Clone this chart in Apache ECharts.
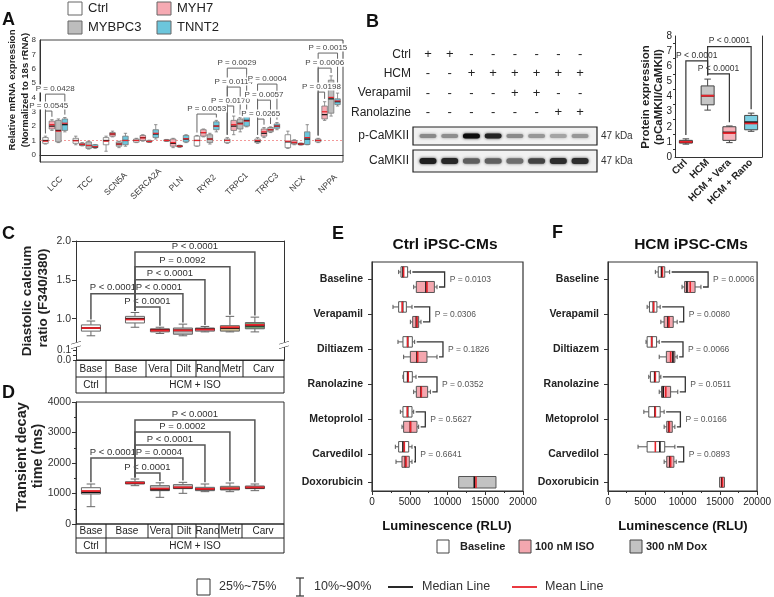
<!DOCTYPE html>
<html><head><meta charset="utf-8">
<script src="https://cdn.jsdelivr.net/npm/echarts@6/dist/echarts.min.js"></script>
<style>html,body{margin:0;padding:0;background:#fff}#c{width:774px;height:597px}</style>
</head><body><div id="c"></div>
<script>
// ================= DATA =================
// Panel A: relative mRNA expression. Each entry: [whiskerLow, q1, median, q3, whiskerHigh, mean]
const genesA = ['LCC','TCC','SCN5A','SERCA2A','PLN','RYR2','TRPC1','TRPC3','NCX','NPPA'];
const groupsA = ['Ctrl','MYH7','MYBPC3','TNNT2'];
const ctrlA = [
 [0.75,0.8,1.0,1.2,1.3,0.95],[0.7,0.8,1.0,1.15,1.3,0.98],[0.25,0.7,1.0,1.2,1.3,0.95],
 [0.85,0.88,1.0,1.1,1.15,1.0],[0.93,0.95,1.0,1.05,1.07,1.0],[0.6,0.62,1.0,1.3,1.35,1.0],
 [0.8,0.85,1.0,1.1,1.2,1.0],[0.8,0.85,0.95,1.1,1.2,1.0],[0.45,0.5,0.9,1.4,1.65,0.95],
 [0.85,0.9,1.0,1.1,1.15,1.0]];
const myh7A = [
 [1.7,1.8,2.0,2.35,2.45,2.1],[0.62,0.65,0.72,0.8,0.85,0.73],[1.25,1.3,1.45,1.55,1.65,1.45],
 [0.95,1.0,1.2,1.35,1.4,1.18],[0.5,0.6,0.8,1.1,1.15,0.85],[1.25,1.3,1.55,1.75,1.8,1.55],
 [1.4,1.7,2.0,2.4,2.7,2.1],[1.2,1.3,1.5,1.8,1.9,1.6],[0.7,0.75,0.85,1.0,1.05,0.87],
 [2.4,2.5,2.8,3.4,3.7,3.0]];
const mybpc3A = [
 [0.85,0.9,1.7,2.4,2.5,1.65],[0.4,0.45,0.65,0.9,0.95,0.65],[0.5,0.6,0.75,0.9,0.95,0.75],
 [0.88,0.9,0.92,1.0,1.02,0.93],[0.52,0.55,0.6,0.65,0.67,0.6],[0.75,0.85,1.1,1.4,1.5,1.1],
 [1.6,1.8,2.2,2.5,2.6,2.15],[1.55,1.6,1.75,1.9,1.95,1.75],[0.68,0.7,0.75,0.8,0.82,0.75],
 [2.7,2.9,3.9,5.2,5.5,4.0]];
const tnnt2A = [
 [1.6,1.7,2.1,2.5,2.6,2.2],[0.45,0.5,0.55,0.7,0.72,0.57],[0.6,0.7,1.0,1.3,1.5,1.0],
 [1.1,1.2,1.45,1.75,2.1,1.5],[0.85,0.9,1.1,1.35,1.4,1.12],[1.6,1.75,2.0,2.3,2.4,2.0],
 [1.95,2.0,2.4,2.65,2.8,2.35],[1.75,1.85,2.0,2.15,2.25,2.0],[0.7,0.72,1.1,1.6,2.1,1.2],
 [3.4,3.5,3.7,3.9,4.3,3.75]];
const refLineA = 1;
// [gene index, from group, to group, bracket height, label]
const bracketsA = [
 [0,0,3,4.23,'P = 0.0428'],[0,0,1,3.05,'P = 0.0545'],[5,0,3,2.84,'P = 0.0053'],
 [6,0,3,6.04,'P = 0.0029'],[6,0,2,4.72,'P = 0.0114'],[6,0,1,3.4,'P = 0.0170'],
 [7,0,3,4.93,'P = 0.0004'],[7,0,2,3.81,'P = 0.0057'],[7,0,1,2.49,'P = 0.0265'],
 [9,0,3,7.09,'P = 0.0015'],[9,0,2,6.04,'P = 0.0006'],[9,0,1,4.37,'P = 0.0198']];

// Panel B: western blot
const rowsB = ['Ctrl','HCM','Verapamil','Ranolazine'];
const ctrlRowB = ['+','+','-','-','-','-','-','-'];
const hcmRowB  = ['-','-','+','+','+','+','+','+'];
const veraRowB = ['-','-','-','-','+','+','-','-'];
const ranoRowB = ['-','-','-','-','-','-','+','+'];
const pCamkiiBands = [0.42,0.4,1.0,0.9,0.42,0.36,0.3,0.36];
const camkiiBands  = [0.92,0.88,0.62,0.62,0.55,0.75,0.85,0.85];
const groupsB = ['Ctrl','HCM','HCM + Vera','HCM + Rano'];
const protB = [
 [0.85,0.92,1.0,1.1,1.2,1.0],[3.1,3.45,4.05,4.7,5.15,4.05],
 [0.95,1.1,1.62,2.0,2.05,1.58],[1.7,1.8,2.3,2.75,2.9,2.22]];
const bracketsB = [[0,1,6.35,'P < 0.0001'],[1,2,5.5,'P < 0.0001'],[1,3,7.3,'P < 0.0001']];

// Panels C & D
const groupsCD = ['Base','Base','Vera','Dilt','Rano','Metr','Carv'];
const diastolicC = [
 [0.78,0.84,0.88,0.92,0.97,0.88],[0.89,0.945,1.0,1.03,1.08,0.99],[0.81,0.83,0.855,0.87,0.89,0.85],
 [0.78,0.80,0.85,0.88,0.93,0.85],[0.83,0.84,0.865,0.88,0.90,0.86],[0.83,0.84,0.88,0.91,1.03,0.89],
 [0.83,0.87,0.91,0.95,1.02,0.92]];
const bracketsC = [[0,1,1.32,'P < 0.0001'],[1,2,1.15,'P < 0.0001'],[1,3,1.32,'P < 0.0001'],
 [1,4,1.5,'P < 0.0001'],[1,5,1.67,'P = 0.0092'],[1,6,1.86,'P < 0.0001']];
const decayD = [
 [568,984,1040,1190,1311,1082],[1257,1311,1345,1387,1475,1350],[875,1093,1130,1257,1350,1160],
 [1006,1160,1190,1290,1366,1202],[1060,1093,1140,1202,1311,1150],[1060,1115,1160,1235,1344,1170],
 [1093,1160,1190,1246,1311,1200]];
const bracketsD = [[0,1,2164,'P < 0.0001'],[1,2,1672,'P < 0.0001'],[1,3,2164,'P = 0.0004'],
 [1,4,2590,'P < 0.0001'],[1,5,3016,'P = 0.0002'],[1,6,3410,'P < 0.0001']];

// Panels E & F (RLU). [whiskerLow, q1, median, q3, whiskerHigh, mean]
const drugsEF = ['Baseline','Verapamil','Diltiazem','Ranolazine','Metoprolol','Carvedilol','Doxorubicin'];
const ctrlBaseE = [
 [3530,3840,4100,4720,5080,4190],[2780,3530,4060,4550,5300,4000],[3440,4100,4720,5340,5650,4720],
 [4100,4190,4720,5340,5830,4800],[3750,4100,4720,5300,5520,4680],[3090,3530,4100,4860,5300,4280]];
const ctrlIsoE = [
 [5520,5870,7150,8260,8610,7280],[5080,5390,5870,6180,6490,5960],[4190,5080,5960,7280,8610,6050],
 [5520,5870,6490,7370,7730,6530],[3970,4190,5080,5960,6180,5100],[3180,3970,4410,4940,5300,4500]];
const ctrlDoxE = [11480,11480,13550,16420,16420,13770];
const bracketXE = [9620,7640,9400,8610,7060,5740];
const pE = ['P = 0.0103','P = 0.0306','P = 0.1826','P = 0.0352','P = 0.5627','P = 0.6641'];
const hcmBaseF = [
 [6350,6740,7180,7610,8270,7310],[5250,5560,6080,6560,7000,6130],[5100,5250,5860,6520,6870,5860],
 [5470,5690,6260,6870,7090,6350],[4810,5470,6300,7000,7530,6350],[4030,5250,6960,7610,8970,6350]];
const hcmIsoF = [
 [9930,10280,10590,11680,12470,11030],[7090,7530,8050,8750,9280,8180],[6870,7830,8710,8970,9280,8400],
 [6870,7180,7400,8400,9360,7750],[7530,7880,8180,8620,8970,8230],[7530,7880,8310,8840,9150,8400]];
const hcmDoxF = [14970,14970,15270,15620,15620,15350];
const bracketXF = [13430,10150,10060,10370,9710,10150];
const pF = ['P = 0.0006','P = 0.0080','P = 0.0066','P = 0.0511','P = 0.0166','P = 0.0893'];

// ================= LAYOUT / STYLE =================
const FF = 'Liberation Sans';
const RED = '#e8232b';
const slotCD = [0.61, 2.41, 3.43, 4.37, 5.27, 6.29, 7.31];
const rowPosEF = [1, 2, 3, 4, 5, 6, 6.8];
const offA = [-0.32, -0.107, 0.107, 0.32];
const colorsA = ['#ffffff', '#f6aab3', '#bdbdbd', '#6cc6dc'];
const plain = v => String(v);

function boxRender(cfg) {
  return function (params, api) {
    const p = api.value(0);
    const wl = api.value(1), q1 = api.value(2), md = api.value(3), q3 = api.value(4), wh = api.value(5), mn = api.value(6);
    const h = !!cfg.horiz;
    const band = Math.abs(h ? api.size([0, 1])[1] : api.size([1, 0])[0]);
    const base = h ? api.coord([0, p])[1] : api.coord([p, 0])[0];
    const c = base + (cfg.offFrac || 0) * band + (cfg.offPx || 0);
    const w = cfg.wPx || cfg.wFrac * band;
    const vp = v => h ? api.coord([v, p])[0] : api.coord([p, v])[1];
    const P = (a, v) => h ? [vp(v), a] : [a, vp(v)];
    const L = (a1, v1, a2, v2, stroke, lw) => { const A = P(a1, v1), B = P(a2, v2);
      return { type: 'line', shape: { x1: A[0], y1: A[1], x2: B[0], y2: B[1] }, style: { stroke, lineWidth: lw } }; };
    const fill = Array.isArray(cfg.fill) ? cfg.fill[params.dataIndex] : cfg.fill;
    const sc = cfg.stroke || '#444', lw = cfg.lw || 1, cap = w * (cfg.cap || 0.5);
    const kids = [];
    if (wh > q3) { kids.push(L(c, q3, c, wh, sc, lw)); kids.push(L(c - cap / 2, wh, c + cap / 2, wh, sc, lw)); }
    if (wl < q1) { kids.push(L(c, wl, c, q1, sc, lw)); kids.push(L(c - cap / 2, wl, c + cap / 2, wl, sc, lw)); }
    const A = P(c - w / 2, q1), B = P(c + w / 2, q3);
    kids.push({ type: 'rect', shape: { x: Math.min(A[0], B[0]), y: Math.min(A[1], B[1]), width: Math.abs(B[0] - A[0]), height: Math.abs(B[1] - A[1]) },
      style: { fill, stroke: sc, lineWidth: lw } });
    kids.push(L(c - w / 2, md, c + w / 2, md, '#111', cfg.mlw || 1.5));
    kids.push(L(c - w / 2, mn, c + w / 2, mn, RED, cfg.mlw || 1.5));
    return { type: 'group', children: kids };
  };
}

// vertical brackets: item [posFrom, offIdxFrom, posTo, offIdxTo, y, legFrom, legTo]
function bracketRenderV(cfg, labels) {
  return function (params, api) {
    const band = Math.abs(api.size([1, 0])[0]);
    const x1 = api.coord([api.value(0), 0])[0] + cfg.offs[api.value(1)] * band;
    const x2 = api.coord([api.value(2), 0])[0] + cfg.offs[api.value(3)] * band;
    const yT = api.coord([0, api.value(4)])[1];
    const y1 = api.coord([0, api.value(5)])[1];
    const y2 = api.coord([0, api.value(6)])[1];
    const kids = [];
    if (cfg.lines) kids.push({ type: 'polyline', shape: { points: [[x1, y1], [x1, yT], [x2, yT], [x2, y2]] },
      style: { stroke: cfg.color, lineWidth: cfg.lw, fill: null } });
    if (cfg.text) kids.push({ type: 'text', x: (x1 + x2) / 2, y: yT - cfg.dy,
      style: { text: labels[params.dataIndex], fontSize: cfg.fs, fontFamily: FF, fill: cfg.tc, align: 'center', verticalAlign: 'bottom',
        backgroundColor: cfg.bg || null, padding: cfg.bg ? [0, 1] : 0 } });
    return { type: 'group', children: kids };
  };
}

// horizontal brackets: item [rowPos, baseWhiskerHigh, isoWhiskerHigh, bracketX]
function bracketRenderH(labels) {
  return function (params, api) {
    const p = api.value(0);
    const yc = api.coord([0, p])[1];
    const ya = yc - 7.5, yb = yc + 7.5;
    const xa = api.coord([api.value(1), p])[0] + 2;
    const xb = api.coord([api.value(2), p])[0] + 2;
    const xr = api.coord([api.value(3), p])[0];
    return { type: 'group', children: [
      { type: 'polyline', shape: { points: [[xa, ya], [xr, ya], [xr, yb], [xb, yb]] }, style: { stroke: '#333', lineWidth: 1.3, fill: null } },
      { type: 'text', x: xr + 5, y: yc, style: { text: labels[params.dataIndex], fontSize: 8.5, fontFamily: FF, fill: '#555', align: 'left', verticalAlign: 'middle' } }
    ] };
  };
}

function bandRender(cfg) {
  return function (params, api) {
    const lane = api.value(0), a = api.value(1);
    const pt = api.coord([lane, 0]);
    const g = Math.round(228 - a * 215);
    const hh = cfg.h + a * 1.5;
    return { type: 'rect', shape: { x: pt[0] - cfg.w / 2, y: pt[1] - hh / 2, width: cfg.w, height: hh, r: hh / 2 },
      style: { fill: 'rgb(' + g + ',' + g + ',' + g + ')', shadowBlur: 3, shadowColor: 'rgba(' + g + ',' + g + ',' + g + ',0.9)' } };
  };
}

const matrixB = [ctrlRowB, hcmRowB, veraRowB, ranoRowB];
function matrixRender(params, api) {
  const lane = api.value(0), r = api.value(1);
  const pt = api.coord([lane, r]);
  return { type: 'text', x: pt[0], y: pt[1], style: { text: matrixB[r][lane - 1], fontSize: 13, fontFamily: FF, fill: '#222', align: 'center', verticalAlign: 'middle' } };
}

function refLineRender(params, api) {
  const cs = params.coordSys;
  const y = api.coord([0, api.value(1)])[1];
  return { type: 'line', shape: { x1: cs.x, y1: y, x2: cs.x + cs.width, y2: y }, style: { stroke: '#f08080', lineWidth: 0.8, lineDash: [2, 2] } };
}

// ---------- build series data ----------
const boxItems = (stats, pos) => stats.map((s, i) => [pos(i)].concat(s));
const statsA = [ctrlA, myh7A, mybpc3A, tnnt2A];
const brA = bracketsA.map(b => [b[0], b[1], b[0], b[2], b[3], statsA[b[1]][b[0]][4] + 0.2, statsA[b[2]][b[0]][4] + 0.2]);
const brB = bracketsB.map(b => [b[0], 0, b[1], 0, b[2], protB[b[0]][4] + 0.25, protB[b[1]][4] + 0.25]);
const brC = bracketsC.map(b => [slotCD[b[0]], 0, slotCD[b[1]], 0, b[2], diastolicC[b[0]][4] + 0.02, diastolicC[b[1]][4] + 0.02]);
const brD = bracketsD.map(b => [slotCD[b[0]], 0, slotCD[b[1]], 0, b[2], decayD[b[0]][4] + 60, decayD[b[1]][4] + 60]);
const brE = ctrlBaseE.map((s, i) => [rowPosEF[i], s[4], ctrlIsoE[i][4], bracketXE[i]]);
const brF = hcmBaseF.map((s, i) => [rowPosEF[i], s[4], hcmIsoF[i][4], bracketXF[i]]);
const matrixData = [];
matrixB.forEach((row, r) => row.forEach((v, l) => matrixData.push([l + 1, r])));

// ---------- axes helpers ----------
const AX = '#333';
const lineOn = { show: true, lineStyle: { color: AX, width: 1 } };
const hideAll = { show: false };
function hiddenValueX(grid, min, max) {
  return { type: 'value', gridIndex: grid, min, max, show: false, splitLine: { show: false } };
}

const fillsC = ['#ffffff', '#ffffff', '#e8575c', '#bcbcbc', '#b9cadb', '#cdbb8e', '#6f9a72'];
const fillsD = ['#ffffff', '#e8575c', '#bdbdbd', '#c4c4c4', '#aeb6c0', '#cdbb8e', '#b0b0b0'];
const fillsB = ['#e8575c', '#c6c6c6', '#f6b3bb', '#7ccfe3'];

const option = {
  animation: false,
  backgroundColor: '#ffffff',
  textStyle: { fontFamily: FF },
  grid: [
    { left: 40, top: 40, width: 303, height: 122, show: true, borderColor: '#444', borderWidth: 1 },          // 0 A
    { left: 413, top: 44.5, width: 184, height: 77.5 },                                                         // 1 B matrix
    { left: 413, top: 127, width: 184, height: 18, show: true, borderColor: '#222', borderWidth: 1.2, backgroundColor: '#f1f1f1' }, // 2
    { left: 413, top: 150, width: 184, height: 22, show: true, borderColor: '#222', borderWidth: 1.2, backgroundColor: '#f1f1f1' }, // 3
    { left: 675, top: 36, width: 87, height: 121 },                                                             // 4 B box
    { left: 76, top: 241, width: 208, height: 101 },                                                            // 5 C upper
    { left: 76, top: 346, width: 208, height: 14 },                                                             // 6 C lower
    { left: 76, top: 402, width: 208, height: 122, show: true, borderColor: '#333', borderWidth: 1 },           // 7 D
    { left: 372, top: 262, width: 151, height: 229, show: true, borderColor: '#333', borderWidth: 1.2 },        // 8 E
    { left: 608, top: 262, width: 152, height: 229, show: true, borderColor: '#333', borderWidth: 1.2 }         // 9 F
  ],
  xAxis: [
    { type: 'category', gridIndex: 0, data: genesA, axisLine: lineOn,
      axisTick: { alignWithLabel: true, length: 3, lineStyle: { color: AX } },
      axisLabel: { rotate: 45, fontSize: 8.5, color: '#333', margin: 22, interval: 0, align: 'center', verticalAlign: 'middle' } },
    hiddenValueX(1, 0.31, 8.78),
    hiddenValueX(2, 0.31, 8.78),
    hiddenValueX(3, 0.31, 8.78),
    { type: 'category', gridIndex: 4, data: groupsB, axisLine: lineOn,
      axisTick: { alignWithLabel: true, length: 3, lineStyle: { color: AX } },
      axisLabel: { rotate: 45, fontSize: 10, fontWeight: 'bold', color: '#222', margin: 4, interval: 0 } },
    { type: 'value', gridIndex: 5, min: 0, max: 8.5, position: 'top', axisLine: lineOn, axisTick: hideAll, axisLabel: hideAll, splitLine: hideAll },
    { type: 'value', gridIndex: 6, min: 0, max: 8.5, position: 'bottom', axisLine: lineOn, axisTick: hideAll, axisLabel: hideAll, splitLine: hideAll },
    hiddenValueX(7, 0, 8.5),
    { type: 'value', gridIndex: 8, min: 0, max: 20000, interval: 5000, axisLine: lineOn,
      axisTick: { length: 4, lineStyle: { color: AX } }, minorTick: { show: true, splitNumber: 2, length: 2, lineStyle: { color: AX } },
      axisLabel: { fontSize: 10, color: '#222', margin: 6, formatter: plain }, splitLine: hideAll },
    { type: 'value', gridIndex: 9, min: 0, max: 20000, interval: 5000, axisLine: lineOn,
      axisTick: { length: 4, lineStyle: { color: AX } }, minorTick: { show: true, splitNumber: 2, length: 2, lineStyle: { color: AX } },
      axisLabel: { fontSize: 10, color: '#222', margin: 6, formatter: plain }, splitLine: hideAll }
  ],
  yAxis: [
    { type: 'value', gridIndex: 0, min: -0.5, max: 8, axisLine: lineOn, splitLine: hideAll,
      axisTick: { length: 3, customValues: [0,1,2,3,4,5,6,7,8], lineStyle: { color: AX } },
      axisLabel: { customValues: [0,1,2,3,4,5,6,7,8], fontSize: 8, color: '#333', margin: 4 } },
    { type: 'category', gridIndex: 1, data: rowsB, inverse: true, axisLine: hideAll, axisTick: hideAll,
      axisLabel: { fontSize: 12, color: '#222', margin: 2 } },
    { type: 'category', gridIndex: 2, data: ['p-CaMKII'], axisLine: hideAll, axisTick: hideAll,
      axisLabel: { fontSize: 12, color: '#222', margin: 4 } },
    { type: 'category', gridIndex: 3, data: ['CaMKII'], axisLine: hideAll, axisTick: hideAll,
      axisLabel: { fontSize: 12, color: '#222', margin: 4 } },
    { type: 'value', gridIndex: 4, min: 0, max: 8, interval: 1, axisLine: lineOn, splitLine: hideAll,
      axisTick: { length: 3, lineStyle: { color: AX } }, minorTick: { show: true, splitNumber: 2, length: 2, lineStyle: { color: AX } },
      axisLabel: { fontSize: 10, color: '#222', margin: 3 } },
    { type: 'value', gridIndex: 5, min: 0.7, max: 2.0, axisLine: lineOn, splitLine: hideAll,
      axisTick: { length: 4, customValues: [1.0, 1.5, 2.0], lineStyle: { color: AX } },
      axisLabel: { customValues: [1.0, 1.5, 2.0], formatter: v => v.toFixed(1), fontSize: 10.5, color: '#333', margin: 5 } },
    { type: 'value', gridIndex: 6, min: 0, max: 0.15, axisLine: lineOn, splitLine: hideAll,
      axisTick: { length: 3, customValues: [0, 0.05, 0.1], lineStyle: { color: AX } },
      axisLabel: { customValues: [0.1], formatter: v => v.toFixed(1), fontSize: 10, color: '#333', margin: 5 } },
    { type: 'value', gridIndex: 7, min: 0, max: 4000, interval: 1000, axisLine: lineOn, splitLine: hideAll,
      axisTick: { length: 4, lineStyle: { color: AX } }, minorTick: { show: true, splitNumber: 2, length: 2, lineStyle: { color: AX } },
      axisLabel: { fontSize: 10.5, color: '#333', margin: 5, formatter: plain } },
    { type: 'value', gridIndex: 8, min: 0.5, max: 7.05, inverse: true, axisLine: lineOn, splitLine: hideAll,
      axisTick: { length: 4, customValues: rowPosEF, lineStyle: { color: AX } },
      axisLabel: { customValues: rowPosEF, formatter: v => drugsEF[rowPosEF.indexOf(v)] || '', fontSize: 10.5, fontWeight: 'bold', color: '#222', margin: 9 } },
    { type: 'value', gridIndex: 9, min: 0.5, max: 7.05, inverse: true, axisLine: lineOn, splitLine: hideAll,
      axisTick: { length: 4, customValues: rowPosEF, lineStyle: { color: AX } },
      axisLabel: { customValues: rowPosEF, formatter: v => drugsEF[rowPosEF.indexOf(v)] || '', fontSize: 10.5, fontWeight: 'bold', color: '#222', margin: 9 } },
    { type: 'category', gridIndex: 2, position: 'right', data: ['47 kDa'], axisLine: hideAll, axisTick: hideAll,
      axisLabel: { fontSize: 10, color: '#333', margin: 4 } },                                             // 10
    { type: 'category', gridIndex: 3, position: 'right', data: ['47 kDa'], axisLine: hideAll, axisTick: hideAll,
      axisLabel: { fontSize: 10, color: '#333', margin: 4 } },                                             // 11
    { type: 'value', gridIndex: 4, position: 'right', min: 0, max: 8, axisLine: lineOn, axisTick: hideAll, axisLabel: hideAll, splitLine: hideAll }, // 12
    { type: 'value', gridIndex: 5, position: 'right', min: 0.7, max: 2, axisLine: lineOn, axisTick: hideAll, axisLabel: hideAll, splitLine: hideAll }, // 13
    { type: 'value', gridIndex: 6, position: 'right', min: 0, max: 0.15, axisLine: lineOn, axisTick: hideAll, axisLabel: hideAll, splitLine: hideAll }, // 14
    { type: 'value', gridIndex: 6, position: 'left', min: 0, max: 0.15, axisLine: hideAll, axisTick: hideAll, splitLine: hideAll,
      axisLabel: { customValues: [0], formatter: v => v.toFixed(1), fontSize: 10, color: '#333', margin: 5 } }  // 15
  ],
  series: [
    // ---- A ----
    { type: 'custom', xAxisIndex: 0, yAxisIndex: 0, renderItem: refLineRender, data: [[0, refLineA]], z: 1 },
    ...statsA.map((st, g) => ({ type: 'custom', name: groupsA[g], xAxisIndex: 0, yAxisIndex: 0,
      renderItem: boxRender({ offFrac: offA[g], wPx: 5.5, fill: colorsA[g], stroke: '#777', lw: 0.8, mlw: 1.2, cap: 0.6 }),
      data: boxItems(st, i => i), z: 3 })),
    { type: 'custom', xAxisIndex: 0, yAxisIndex: 0, z: 4,
      renderItem: bracketRenderV({ offs: offA, lines: true, color: '#666', lw: 1 }, []), data: brA },
    { type: 'custom', xAxisIndex: 0, yAxisIndex: 0, z: 5,
      renderItem: bracketRenderV({ offs: offA, text: true, fs: 8, tc: '#444', dy: 1.5, bg: '#ffffff' }, bracketsA.map(b => b[4])), data: brA },
    // ---- B ----
    { type: 'custom', xAxisIndex: 1, yAxisIndex: 1, renderItem: matrixRender, data: matrixData },
    { type: 'custom', xAxisIndex: 2, yAxisIndex: 2, renderItem: bandRender({ w: 17, h: 3.5 }), data: pCamkiiBands.map((v, i) => [i + 1, v]) },
    { type: 'custom', xAxisIndex: 3, yAxisIndex: 3, renderItem: bandRender({ w: 17, h: 4.5 }), data: camkiiBands.map((v, i) => [i + 1, v]) },
    { type: 'custom', xAxisIndex: 4, yAxisIndex: 4, z: 3,
      renderItem: boxRender({ wPx: 13, fill: fillsB, stroke: '#444', lw: 1, mlw: 1.8, cap: 0.5 }), data: boxItems(protB, i => i) },
    { type: 'custom', xAxisIndex: 4, yAxisIndex: 4, z: 4,
      renderItem: bracketRenderV({ offs: [0], lines: true, text: true, color: '#333', lw: 1.2, fs: 8.5, tc: '#333', dy: 1 }, bracketsB.map(b => b[3])), data: brB },
    // ---- C ----
    { type: 'custom', xAxisIndex: 5, yAxisIndex: 5, z: 3,
      renderItem: boxRender({ wPx: 19, fill: fillsC, stroke: '#666', lw: 1, mlw: 1.8, cap: 0.45 }), data: boxItems(diastolicC, i => slotCD[i]) },
    { type: 'custom', xAxisIndex: 5, yAxisIndex: 5, z: 4,
      renderItem: bracketRenderV({ offs: [0], lines: true, text: true, color: '#555', lw: 1.5, fs: 9.5, tc: '#333', dy: 1 }, bracketsC.map(b => b[3])), data: brC },
    // ---- D ----
    { type: 'custom', xAxisIndex: 7, yAxisIndex: 7, z: 3,
      renderItem: boxRender({ wPx: 19, fill: fillsD, stroke: '#666', lw: 1, mlw: 1.8, cap: 0.45 }), data: boxItems(decayD, i => slotCD[i]) },
    { type: 'custom', xAxisIndex: 7, yAxisIndex: 7, z: 4,
      renderItem: bracketRenderV({ offs: [0], lines: true, text: true, color: '#555', lw: 1.5, fs: 9.5, tc: '#333', dy: 1 }, bracketsD.map(b => b[3])), data: brD },
    // ---- E ----
    { type: 'custom', xAxisIndex: 8, yAxisIndex: 8, renderItem: boxRender({ horiz: true, offPx: -7.5, wPx: 10.5, fill: '#ffffff', stroke: '#555', lw: 1, mlw: 1.6, cap: 0.4 }),
      data: boxItems(ctrlBaseE, i => rowPosEF[i]) },
    { type: 'custom', xAxisIndex: 8, yAxisIndex: 8, renderItem: boxRender({ horiz: true, offPx: 7.5, wPx: 11, fill: '#f4a7af', stroke: '#555', lw: 1, mlw: 1.6, cap: 0.4 }),
      data: boxItems(ctrlIsoE, i => rowPosEF[i]) },
    { type: 'custom', xAxisIndex: 8, yAxisIndex: 8, renderItem: boxRender({ horiz: true, offPx: 0, wPx: 11.5, fill: '#c2c2c2', stroke: '#555', lw: 1, mlw: 1.6 }),
      data: [[rowPosEF[6]].concat(ctrlDoxE)] },
    { type: 'custom', xAxisIndex: 8, yAxisIndex: 8, renderItem: bracketRenderH(pE), data: brE },
    // ---- F ----
    { type: 'custom', xAxisIndex: 9, yAxisIndex: 9, renderItem: boxRender({ horiz: true, offPx: -7.5, wPx: 10.5, fill: '#ffffff', stroke: '#555', lw: 1, mlw: 1.6, cap: 0.4 }),
      data: boxItems(hcmBaseF, i => rowPosEF[i]) },
    { type: 'custom', xAxisIndex: 9, yAxisIndex: 9, renderItem: boxRender({ horiz: true, offPx: 7.5, wPx: 11, fill: '#f4a7af', stroke: '#555', lw: 1, mlw: 1.6, cap: 0.4 }),
      data: boxItems(hcmIsoF, i => rowPosEF[i]) },
    { type: 'custom', xAxisIndex: 9, yAxisIndex: 9, renderItem: boxRender({ horiz: true, offPx: 0, wPx: 10, fill: '#f4a7af', stroke: '#555', lw: 1, mlw: 1.6 }),
      data: [[rowPosEF[6]].concat(hcmDoxF)] },
    { type: 'custom', xAxisIndex: 9, yAxisIndex: 9, renderItem: bracketRenderH(pF), data: brF }
  ]
};

// ---------- graphic (titles, legends, tables, decorations) ----------
const G = [];
function txt(x, y, text, size, opt) {
  opt = opt || {};
  G.push({ type: 'text', x, y, rotation: opt.rot || 0, z: 10,
    style: { text, fontSize: size, fontFamily: opt.ff || FF, fontWeight: opt.bold ? 'bold' : 'normal', fill: opt.color || '#222',
      align: opt.align || 'left', verticalAlign: 'middle', textAlign: opt.align || 'left', textVerticalAlign: 'middle' } });
}
function rect(x, y, w, h, fill, stroke, lw) {
  G.push({ type: 'rect', z: 10, shape: { x, y, width: w, height: h }, style: { fill: fill || 'none', stroke: stroke || '#222', lineWidth: lw || 1 } });
}
function seg(x1, y1, x2, y2, stroke, lw) {
  G.push({ type: 'line', z: 10, shape: { x1, y1, x2, y2 }, style: { stroke: stroke || '#222', lineWidth: lw || 1 } });
}
// panel letters
[['A', 2, 20], ['B', 366, 22], ['C', 2, 234], ['D', 2, 393], ['E', 332, 234], ['F', 552, 233]].forEach(l => txt(l[1], l[2], l[0], 18, { bold: true, color: '#111' }));
// A legend
[[68, 2, 0], [157, 2, 1], [68, 21, 2], [157, 21, 3]].forEach(r => {
  rect(r[0], r[1], 14, 13, colorsA[r[2]], '#666', 1);
  txt(r[0] + 20, r[1] + 6.5, groupsA[r[2]], 13, { color: '#222' });
});
// axis titles
txt(12, 90, 'Relative mRNA expression', 9.5, { bold: true, rot: Math.PI / 2, align: 'center' });
txt(25, 90, '(Normalized to 18s rRNA)', 9.5, { bold: true, rot: Math.PI / 2, align: 'center' });
txt(646, 97, 'Protein expression', 11.5, { bold: true, rot: Math.PI / 2, align: 'center' });
txt(659, 97, '(pCaMKII/CaMKII)', 11.5, { bold: true, rot: Math.PI / 2, align: 'center' });
txt(27, 301, 'Diastolic calcium', 13.5, { bold: true, rot: Math.PI / 2, align: 'center' });
txt(43, 298, 'ratio (F340/380)', 13.5, { bold: true, rot: Math.PI / 2, align: 'center' });
txt(22, 457, 'Transient decay', 14.5, { bold: true, rot: Math.PI / 2, align: 'center' });
txt(38, 456, 'time (ms)', 14.5, { bold: true, rot: Math.PI / 2, align: 'center' });
txt(445, 245, 'Ctrl iPSC-CMs', 15.5, { bold: true, align: 'center', color: '#111' });
txt(691, 245, 'HCM iPSC-CMs', 15.5, { bold: true, align: 'center', color: '#111' });
txt(447, 526, 'Luminescence (RLU)', 13, { bold: true, align: 'center', color: '#111' });
txt(683, 526, 'Luminescence (RLU)', 13, { bold: true, align: 'center', color: '#111' });
// C axis break marks
[[76, 344], [284, 344]].forEach(b => {
  G.push({ type: 'polygon', z: 11, shape: { points: [[b[0] - 5, b[1] + 0.5], [b[0] + 5, b[1] - 2.5], [b[0] + 5, b[1] + 1.5], [b[0] - 5, b[1] + 4.5]] }, style: { fill: '#fff' } });
  seg(b[0] - 5, b[1] + 0.5, b[0] + 5, b[1] - 2.5, '#333', 1);
  seg(b[0] - 5, b[1] + 4.5, b[0] + 5, b[1] + 1.5, '#333', 1);
});
// tables under C and D
function table(top, mid, bottom, cols) {
  rect(cols[0], top, cols[cols.length - 1] - cols[0], bottom - top, 'none', '#222', 1);
  seg(cols[0], mid, cols[cols.length - 1], mid, '#222', 1);
  for (let i = 1; i < cols.length - 1; i++) seg(cols[i], top, cols[i], i === 1 ? bottom : mid, '#222', 1);
  groupsCD.forEach((g, i) => txt((cols[i] + cols[i + 1]) / 2, (top + mid) / 2 + 0.5, g, 10, { align: 'center', color: '#222' }));
  txt((cols[0] + cols[1]) / 2, (mid + bottom) / 2 + 0.5, 'Ctrl', 10, { align: 'center', color: '#222' });
  txt((cols[1] + cols[cols.length - 1]) / 2, (mid + bottom) / 2 + 0.5, 'HCM + ISO', 10, { align: 'center', color: '#222' });
}
table(360, 377, 393, [76, 106, 146, 171, 196, 220, 243, 284]);
table(524, 538, 553, [76, 106, 148, 172, 196, 219, 242, 284]);
// E/F legend
rect(437, 540, 12, 13, '#ffffff', '#444', 1); txt(460, 547, 'Baseline', 11, { bold: true });
rect(519, 540, 12, 13, '#f4a7af', '#444', 1); txt(535, 547, '100 nM ISO', 11, { bold: true });
rect(630, 540, 12, 13, '#c2c2c2', '#444', 1); txt(646, 547, '300 nM Dox', 11, { bold: true });
// bottom legend
const LY = 587;
rect(197, LY - 8, 13, 16, '#ffffff', '#333', 1); txt(219, LY, '25%~75%', 12.5, { color: '#333' });
seg(300, LY - 9, 300, LY + 9, '#333', 1.2); seg(296, LY - 9, 304, LY - 9, '#333', 1.2); seg(296, LY + 9, 304, LY + 9, '#333', 1.2);
txt(314, LY, '10%~90%', 12.5, { color: '#333' });
seg(388, LY, 413, LY, '#111', 1.8); txt(422, LY, 'Median Line', 12.5, { color: '#333' });
seg(512, LY, 537, LY, RED, 1.8); txt(545, LY, 'Mean Line', 12.5, { color: '#333' });

option.graphic = { elements: G };

const chart = echarts.init(document.getElementById('c'), null, { renderer: 'canvas', width: 774, height: 597 });
chart.setOption(option);
</script>
</body></html>
